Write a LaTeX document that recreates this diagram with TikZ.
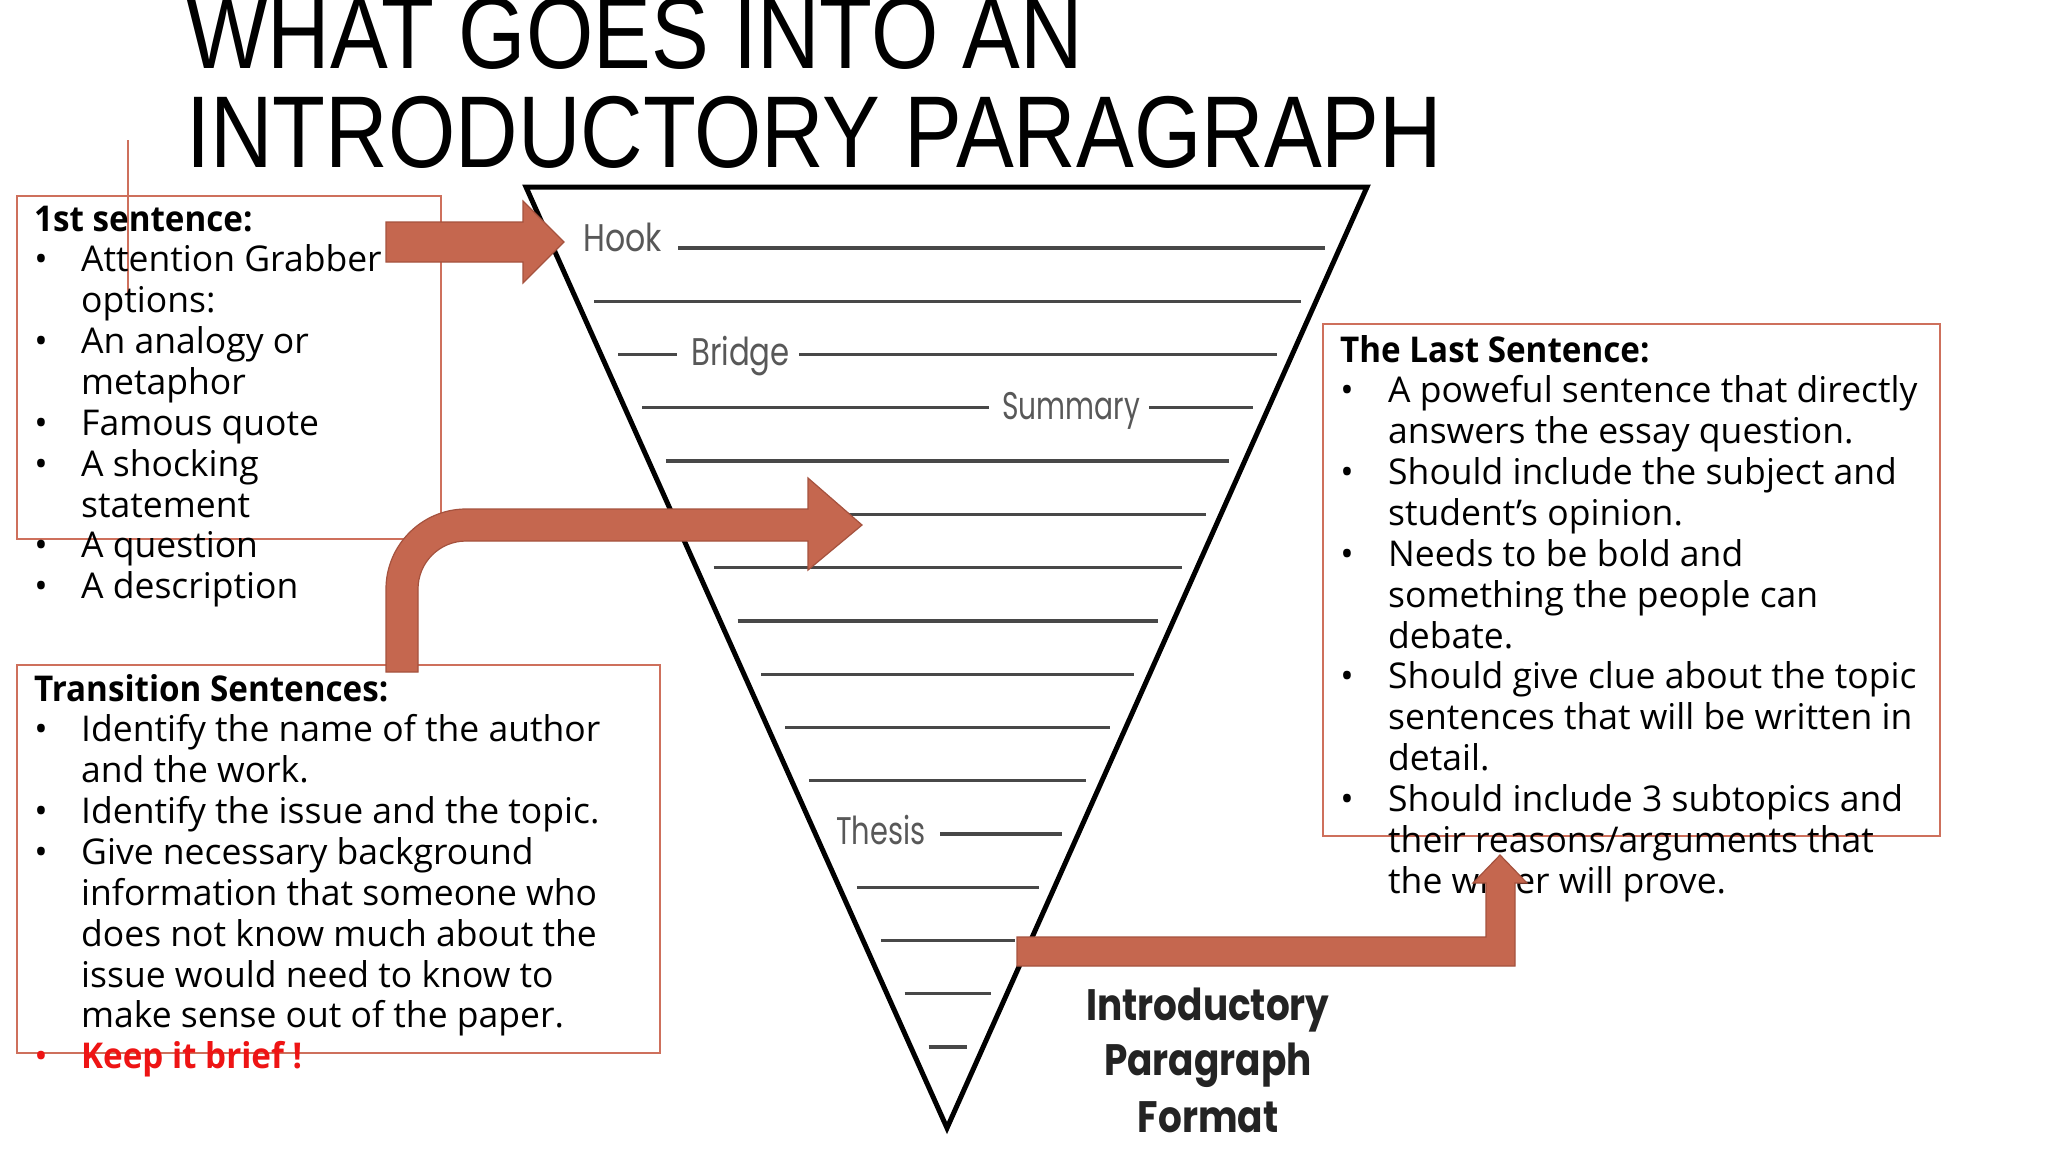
\documentclass[tikz,border=0pt]{standalone}
\usepackage{fontspec}
\setmainfont{Open Sans}
\newfontfamily\titlef{Liberation Sans}
\newfontfamily\popf{Poppins}
\definecolor{arrowfill}{RGB}{197,103,79}
\definecolor{arrowdraw}{RGB}{165,82,62}
\definecolor{boxred}{RGB}{206,112,92}
\definecolor{tline}{RGB}{72,72,72}
\definecolor{labelgray}{RGB}{88,88,88}
\definecolor{capgray}{RGB}{35,35,35}
\definecolor{keepred}{RGB}{238,20,20}
\newcommand\bodysize{\fontsize{35.5}{40.85}\selectfont}
\newcommand\bitem[5]{\node[bulletn] (#1-b) at (#2,#4) {•}; \node[body] (#1) at (#3,#4) {#5};}
\newcommand\citem[4]{\node[body] (#1) at (#2,#3) {#4};}
\newcommand\hdtext[1]{\scalebox{0.935}[1]{#1}}
\tikzset{
  body/.style={anchor=base west, inner sep=0pt, font=\bodysize, text=black},
  headtxt/.style={body, font=\bodysize\bfseries},
  bulletn/.style={anchor=base, inner sep=0pt, font=\bodysize, text=black},
  infobox/.style={draw=boxred, line width=1.6pt},
  bigarrow/.style={fill=arrowfill, draw=arrowdraw, line width=1.2pt, line join=miter},
  rule/.style={draw=tline, line width=3.2pt},
  funnel/.style={draw=black, line width=5pt, line join=miter},
  flabel/.style={anchor=base west, inner sep=0pt, text=labelgray, font=\popf\fontsize{38.5}{40}\selectfont},
  captxt/.style={anchor=base, inner sep=0pt, text=capgray, font=\popf\bfseries\fontsize{44}{50}\selectfont},
  titletxt/.style={anchor=base west, inner sep=0pt, font=\titlef\fontsize{102}{110}\selectfont}
}
\begin{document}
\begin{tikzpicture}[x=1pt,y=-1pt]
\useasboundingbox (0,0) rectangle (2048,1152);
\fill[white] (0,0) rectangle (2048,1152);

% title
\node[titletxt] (title1) at (186,68) {\scalebox{0.849}[1]{WHAT GOES INTO AN}};
\node[titletxt] (title2) at (186,167) {\scalebox{0.849}[1]{INTRODUCTORY PARAGRAPH}};

% funnel
\draw[funnel] (526,187) -- (1367,187) -- (947,1128) -- cycle;
\foreach \i in {1,4,5,6,7,8,9,10,12,13,14,15}{
  \pgfmathsetmacro\yy{248+53.27*\i}
  \pgfmathsetmacro\xl{543+0.4483*(\yy-187)}
  \pgfmathsetmacro\xr{1352-0.4473*(\yy-187)}
  \draw[rule] (\xl,\yy) -- (\xr,\yy);
}
% labelled rules
\node[flabel] (hook) at (583,251) {\scalebox{0.82}[1]{Hook}};
\draw[rule] (678,248) -- (1325,248);
\draw[rule] (618,354.5) -- (677,354.5);
\node[flabel] (bridge) at (691,365) {\scalebox{0.8}[1]{Bridge}};
\draw[rule] (799,354.5) -- (1277,354.5);
\draw[rule] (642,407.8) -- (989,407.8);
\node[flabel] (summary) at (1002,419) {\scalebox{0.73}[1]{Summary}};
\draw[rule] (1149,407.8) -- (1253,407.8);
\node[flabel] (thesis) at (836,844) {\scalebox{0.75}[1]{Thesis}};
\draw[rule] (940,834) -- (1062,834);

% caption
\node[captxt] (cap1) at (1208,1020) {\scalebox{0.85}[1]{Introductory}};
\node[captxt] (cap2) at (1208,1075) {\scalebox{0.85}[1]{Paragraph}};
\node[captxt] (cap3) at (1208,1132) {\scalebox{0.85}[1]{Format}};

% boxes
\draw[infobox] (17,196) rectangle (441,539);
\draw[infobox] (17,665) rectangle (660,1053);
\draw[infobox] (1323,324) rectangle (1940,836);
\draw[draw=boxred, line width=1.6pt] (128,140) -- (128,294);

% box 1 text
\node[headtxt] (h1) at (34,231) {\hdtext{1st sentence:}};
\bitem{a1}{41}{81}{271.9}{Attention Grabber}
\citem{a2}{81}{312.7}{options:}
\bitem{a3}{41}{81}{353.6}{An analogy or}
\citem{a4}{81}{394.4}{metaphor}
\bitem{a5}{41}{81}{435.3}{Famous quote}
\bitem{a6}{41}{81}{476.1}{A shocking}
\citem{a7}{81}{517}{statement}
\bitem{a8}{41}{81}{557.8}{A question}
\bitem{a9}{41}{81}{598.7}{A description}

% box 2 text
\node[headtxt] (h2) at (34,701) {\hdtext{Transition Sentences:}};
\bitem{b1}{41}{81}{741.9}{Identify the name of the author}
\citem{b2}{81}{782.7}{and the work.}
\bitem{b3}{41}{81}{823.6}{Identify the issue and the topic.}
\bitem{b4}{41}{81}{864.4}{Give necessary background}
\citem{b5}{81}{905.3}{information that someone who}
\citem{b6}{81}{946.1}{does not know much about the}
\citem{b7}{81}{987}{issue would need to know to}
\citem{b8}{81}{1027.8}{make sense out of the paper.}
\node[bulletn, text=keepred] (b9-b) at (41,1068.7) {•};
\node[body, text=keepred, font=\bodysize\bfseries] (b9) at (81,1068.7) {\hdtext{Keep it brief !}};

% box 3 text
\node[headtxt] (h3) at (1340,362) {\hdtext{The Last Sentence:}};
\bitem{c1}{1347}{1388}{402.9}{A poweful sentence that directly}
\citem{c2}{1388}{443.7}{answers the essay question.}
\bitem{c3}{1347}{1388}{484.6}{Should include the subject and}
\citem{c4}{1388}{525.4}{student’s opinion.}
\bitem{c5}{1347}{1388}{566.3}{Needs to be bold and}
\citem{c6}{1388}{607.1}{something the people can}
\citem{c7}{1388}{648}{debate.}
\bitem{c8}{1347}{1388}{688.8}{Should give clue about the topic}
\citem{c9}{1388}{729.7}{sentences that will be written in}
\citem{c10}{1388}{770.5}{detail.}
\bitem{c11}{1347}{1388}{811.4}{Should include 3 subtopics and}
\citem{c12}{1388}{852.2}{their reasons/arguments that}
\citem{c13}{1388}{893.1}{the writer will prove.}

% arrows
\path[bigarrow] (386,222) -- (523,222) -- (523,201) -- (564,242) -- (523,283) -- (523,262) -- (386,262) -- cycle;
\path[bigarrow] (386,672) -- (386,589) .. controls (386,545) and (422,509) .. (466,509)
  -- (808,509) -- (808,478) -- (862,525) -- (808,570) -- (808,541) -- (466,541)
  .. controls (439.5,541) and (418,562.5) .. (418,589) -- (418,672) -- cycle;
\path[bigarrow] (1017,937) -- (1486,937) -- (1486,883) -- (1473,883) -- (1500,855) -- (1527,883) -- (1515,883) -- (1515,966) -- (1017,966) -- cycle;
\end{tikzpicture}
\end{document}
